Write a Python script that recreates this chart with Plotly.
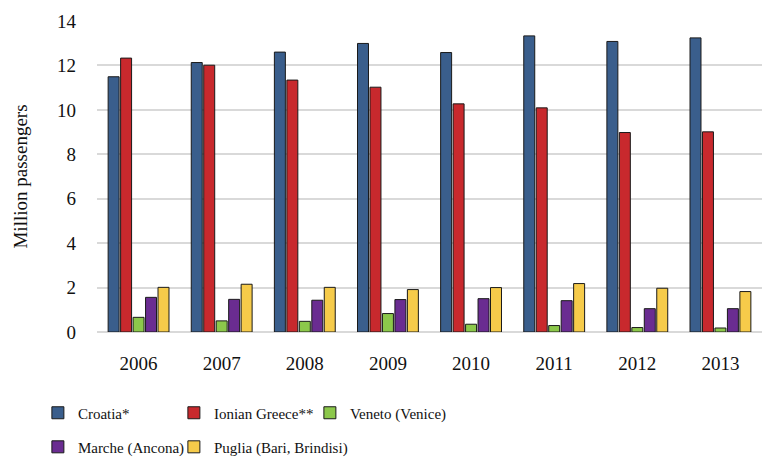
import plotly.graph_objects as go

years = ["2006", "2007", "2008", "2009", "2010", "2011", "2012", "2013"]
croatia = [11.49, 12.13, 12.60, 12.99, 12.58, 13.33, 13.08, 13.24]
ionian = [12.33, 12.01, 11.34, 11.02, 10.27, 10.09, 8.98, 9.01]
veneto = [0.66, 0.50, 0.48, 0.83, 0.35, 0.29, 0.20, 0.18]
marche = [1.56, 1.47, 1.43, 1.46, 1.50, 1.41, 1.05, 1.05]
puglia = [2.01, 2.15, 2.01, 1.91, 2.00, 2.18, 1.97, 1.82]

names = ["Croatia*", "Ionian Greece**", "Veneto (Venice)", "Marche (Ancona)", "Puglia (Bari, Brindisi)"]
values = [croatia, ionian, veneto, marche, puglia]
colors = ["#3A5E8C", "#C8292D", "#8CC84B", "#6A2C91", "#F6CB4A"]
legend_ids = ["legend", "legend", "legend", "legend2", "legend2"]

FAM = "Liberation Serif"
font = dict(family=FAM, size=19, color="#111111")
legfont = dict(family=FAM, size=15, color="#111111")

fig = go.Figure()
for name, vals, color, lg in zip(names, values, colors, legend_ids):
    fig.add_trace(go.Bar(
        x=years, y=vals, name=name, legend=lg,
        marker=dict(color=color, line=dict(color="#1a1a1a", width=1)),
    ))
# invisible spacer entries (not bars, so they take no bar slot) keep legend rows unclipped
for lg in ["legend", "legend2"]:
    fig.add_trace(go.Scatter(x=[None], y=[None], name=" ", legend=lg, mode="lines",
                             line=dict(color="rgba(0,0,0,0)", width=0),
                             hoverinfo="skip"))

leg_common = dict(orientation="h", xanchor="left", yanchor="middle", font=legfont,
                  entrywidth=91, entrywidthmode="pixels", itemwidth=30,
                  bgcolor="rgba(0,0,0,0)", tracegroupgap=0)

fig.update_layout(
    width=764, height=463,
    margin=dict(l=97, r=2, t=21, b=131, autoexpand=False),
    paper_bgcolor="white", plot_bgcolor="white",
    barmode="group", bargap=0.25, bargroupgap=0.12,
    font=font,
    xaxis=dict(showgrid=False, showline=False, ticks="", tickfont=font,
               ticklabelstandoff=18, automargin=False),
    yaxis=dict(range=[0, 14], dtick=2, showgrid=True, gridcolor="#D9D9D9", gridwidth=1.5,
               zeroline=True, zerolinecolor="#D9D9D9", zerolinewidth=1.5,
               showline=False, ticks="", tickfont=font, ticklabelstandoff=20,
               automargin=False,
               title=dict(text="Million passengers", font=font, standoff=24)),
    legend=dict(x=-0.0889, y=-0.2605, **leg_common),
    legend2=dict(x=-0.0889, y=-0.370, **leg_common),
)

fig.write_html("out.html", config={"displayModeBar": False},
               post_script="document.body.style.margin='0px';")
